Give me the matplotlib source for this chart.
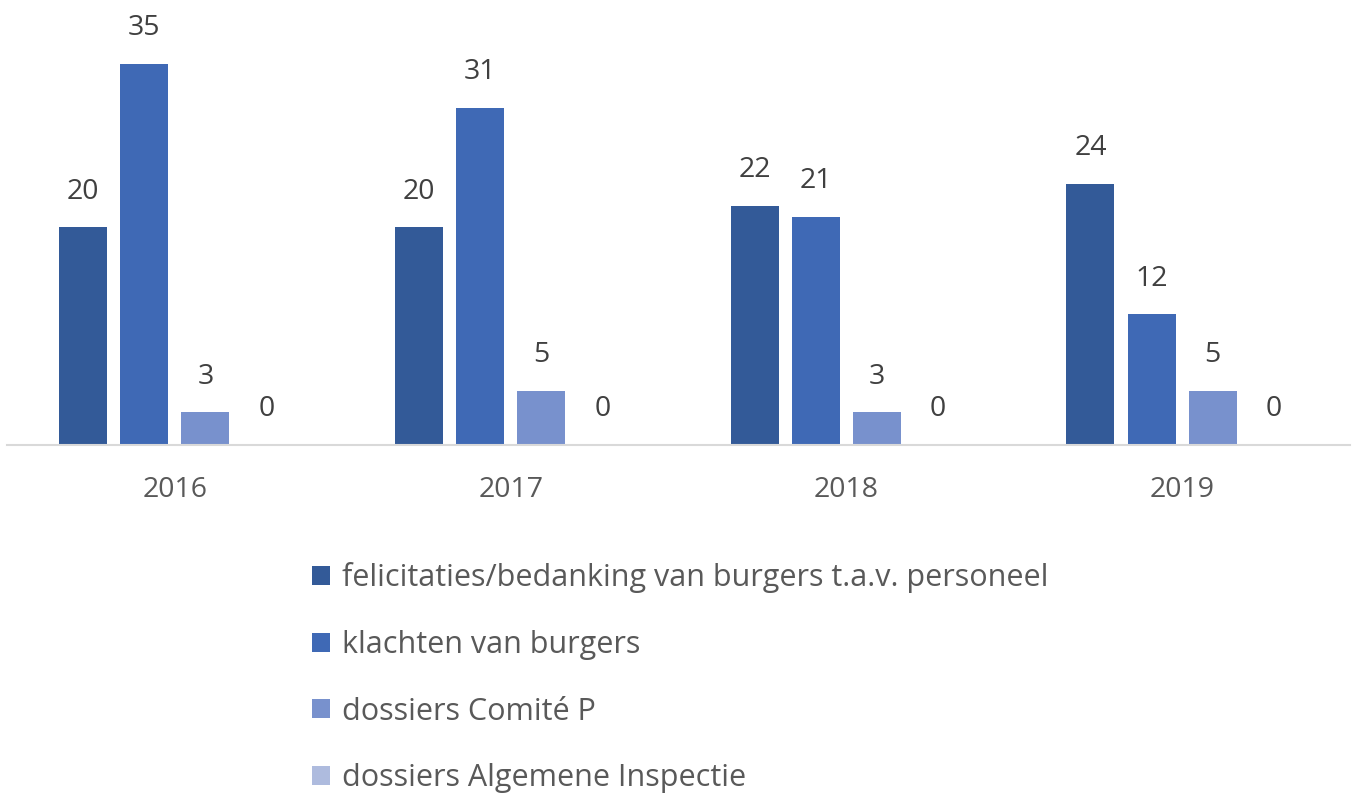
import numpy as np
import matplotlib.pyplot as plt
from matplotlib.patches import Patch

YEARS = ["2016", "2017", "2018", "2019"]
SERIES = [
    "felicitaties/bedanking van burgers t.a.v. personeel",
    "klachten van burgers",
    "dossiers Comité P",
    "dossiers Algemene Inspectie",
]
felicitaties = [20, 20, 22, 24]
klachten = [35, 31, 21, 12]
comite_p = [3, 5, 3, 5]
algemene_inspectie = [0, 0, 0, 0]

COLORS = ["#335A98", "#3F69B5", "#7891CD", "#AEBBDE"]

plt.rcParams["font.family"] = ["Open Sans", "DejaVu Sans"]

fig = plt.figure(figsize=(13.55, 7.93), dpi=100)
ax = fig.add_axes([7 / 1355, (793 - 445) / 793, 1343 / 1355, 445 / 793])

values = [felicitaties, klachten, comite_p, algemene_inspectie]
x = np.arange(len(YEARS))
step = 0.182
width = 0.143
for i, (vals, color) in enumerate(zip(values, COLORS)):
    pos = x + (i - 1.5) * step
    bars = ax.bar(pos, vals, width=width, color=color, zorder=2)
    for b, v in zip(bars, vals):
        ax.text(b.get_x() + b.get_width() / 2, v + 2.0, str(v),
                ha="center", va="bottom", fontsize=20.5, color="#404040")

ax.set_xlim(-0.5, len(YEARS) - 0.5)
ax.set_ylim(0, 40.9)
ax.set_yticks([])
ax.set_xticks(x)
ax.set_xticklabels(YEARS, fontsize=20.5, color="#595959")
ax.tick_params(axis="x", length=0, pad=22)
for side in ["top", "right", "left"]:
    ax.spines[side].set_visible(False)
ax.spines["bottom"].set_color("#D9D9D9")
ax.spines["bottom"].set_linewidth(1.5)
ax.patch.set_alpha(0)

handles = [Patch(facecolor=c, edgecolor="none") for c in COLORS]
fig.legend(handles, SERIES, loc="upper left", bbox_to_anchor=(300 / 1355, 1 - 550 / 793),
           frameon=False, fontsize=22, labelcolor="#595959",
           handlelength=0.58, handleheight=0.58, handletextpad=0.4,
           labelspacing=1.2, borderaxespad=0)

fig.savefig("out.png", dpi=100)
